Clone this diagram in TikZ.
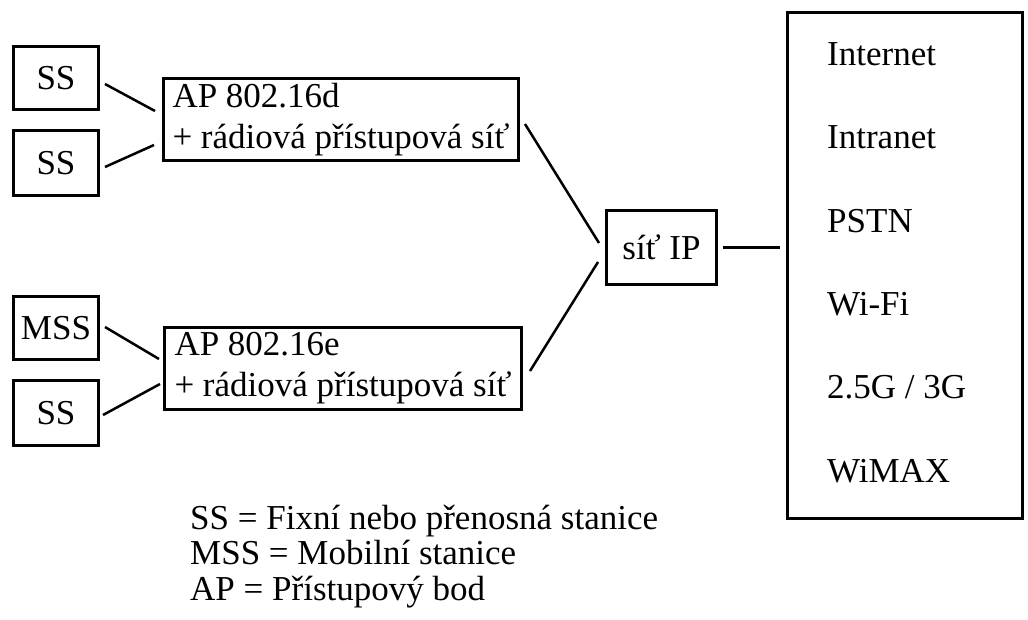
\documentclass[tikz,border=0pt]{standalone}
\usepackage{fontspec}
\setmainfont{Liberation Serif}
\begin{document}
\begin{tikzpicture}[x=1pt,y=-1pt,
  txt/.style={font=\fontsize{35}{41}\selectfont},
  box/.style={draw, line width=3.5pt, outer sep=0pt, inner sep=0pt, txt},
  link/.style={line width=2.5pt},
  lbl/.style={anchor=base west, inner sep=0pt, txt}]
\useasboundingbox (0,0) rectangle (1028,619);
% stations
\node[box, minimum width=85pt, minimum height=63pt] (ss1) at (56,78) {SS};
\node[box, minimum width=85pt, minimum height=65pt] (ss2) at (56,163) {SS};
\node[box, minimum width=85pt, minimum height=63pt] (mss) at (56,328) {MSS};
\node[box, minimum width=85pt, minimum height=65pt] (ss3) at (56,413) {SS};
% access points
\node[box, align=left, minimum width=355pt, minimum height=82pt] (apd) at (341,119.5)
  {AP 802.16d\\+ rádiová přístupová síť};
\node[box, align=left, minimum width=357pt, minimum height=82pt] (ape) at (343,368.5)
  {AP 802.16e\\+ rádiová přístupová síť};
% IP network
\node[box, minimum width=110pt, minimum height=74pt] (ip) at (661.5,247.5) {síť IP};
% networks box
\node[box, minimum width=235pt, minimum height=506pt] (net) at (905,265.5) {};
\node[lbl] (t1) at (827,65) {Internet};
\node[lbl] (t2) at (827,148) {Intranet};
\node[lbl] (t3) at (827,232) {PSTN};
\node[lbl] (t4) at (827,315) {Wi-Fi};
\node[lbl] (t5) at (827,398) {2.5G / 3G};
\node[lbl] (t6) at (827,482) {WiMAX};
% legend
\node[lbl] (l1) at (190,529) {SS = Fixní nebo přenosná stanice};
\node[lbl] (l2) at (190,564) {MSS = Mobilní stanice};
\node[lbl] (l3) at (190,600) {AP = Přístupový bod};
% connectors
\draw[link] ([shift={(6.5,6)}]ss1.east) -- ([shift={(-8.5,-8.5)}]apd.west);
\draw[link] ([shift={(6.5,4)}]ss2.east) -- ([shift={(-9.5,25.5)}]apd.west);
\draw[link] ([shift={(6.5,-1)}]mss.east) -- ([shift={(-5.5,-9.5)}]ape.west);
\draw[link] ([shift={(4.5,2)}]ss3.east) -- ([shift={(-4.5,15.5)}]ape.west);
\draw[link] ([shift={(6.5,4.5)}]apd.east) -- ([shift={(-7.5,-4.5)}]ip.west);
\draw[link] ([shift={(8.5,2.5)}]ape.east) -- ([shift={(-8.5,14.5)}]ip.west);
\coordinate (netin) at (ip.east -| net.west);
\draw[line width=3pt] ([shift={(6.5,0)}]ip.east) -- ([shift={(-7.5,0)}]netin);
\end{tikzpicture}
\end{document}
